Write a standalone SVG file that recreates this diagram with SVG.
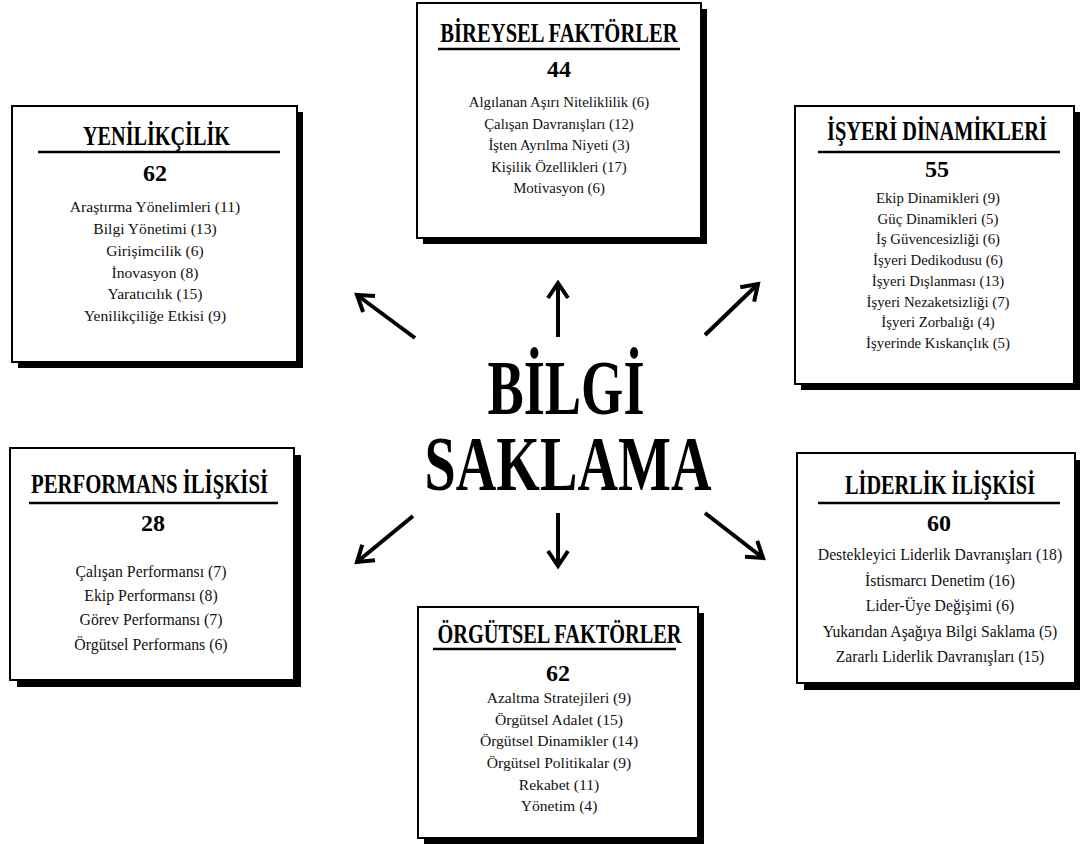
<svg xmlns="http://www.w3.org/2000/svg" width="1080" height="844" viewBox="0 0 1080 844">
<defs>
<style>
.shadow{fill:#000}
.box{fill:#fff;stroke:#000;stroke-width:2}
.ul{stroke:#000;stroke-width:2.5}
.t{font-family:"Liberation Serif",serif;font-weight:bold;fill:#000;text-anchor:middle}
.n{font-family:"Liberation Serif",serif;font-weight:bold;font-size:24px;fill:#000;text-anchor:middle}
.i{font-family:"Liberation Serif",serif;fill:#111;text-anchor:middle}
.arrow{stroke:#000;stroke-width:4;fill:none}
</style>
<marker id="head" viewBox="-20 -15 30 30" markerWidth="30" markerHeight="30" refX="0" refY="0" orient="auto" markerUnits="userSpaceOnUse">
<path d="M -15 -10 L 0 0 L -15 10" fill="none" stroke="#000" stroke-width="4"/>
</marker>
</defs>
<rect width="1080" height="844" fill="#fff"/>

<g id="center">
<text class="t" font-size="78" transform="translate(566,414) scale(0.697,1)" x="0" y="0">BİLGİ</text>
<text class="t" font-size="78" transform="translate(568,490) scale(0.72,1)" x="0" y="0">SAKLAMA</text>
</g>

<g id="connectors">
<line class="arrow" x1="415" y1="338" x2="357" y2="295" marker-end="url(#head)"/>
<line class="arrow" x1="558" y1="337" x2="558" y2="283" marker-end="url(#head)"/>
<line class="arrow" x1="705" y1="335" x2="758" y2="284" marker-end="url(#head)"/>
<line class="arrow" x1="413" y1="516" x2="357" y2="562" marker-end="url(#head)"/>
<line class="arrow" x1="558" y1="513" x2="558" y2="566" marker-end="url(#head)"/>
<line class="arrow" x1="705" y1="513" x2="763" y2="558" marker-end="url(#head)"/>
</g>

<g id="yenilikcilik">
<rect class="shadow" x="18" y="112" width="285" height="256"/>
<rect class="box" x="12" y="106" width="285" height="256"/>
<text class="t" font-size="27" transform="translate(156.5,145) scale(0.748,1)" x="0" y="0">YENİLİKÇİLİK</text>
<line class="ul" x1="38" y1="152" x2="280" y2="152"/>
<text class="n" x="155" y="181">62</text>
<g class="i" font-size="15.6">
<text x="155" y="212">Araştırma Yönelimleri (11)</text>
<text x="155" y="234">Bilgi Yönetimi (13)</text>
<text x="155" y="256">Girişimcilik (6)</text>
<text x="155" y="278">İnovasyon (8)</text>
<text x="155" y="299">Yaratıcılık (15)</text>
<text x="155" y="321">Yenilikçiliğe Etkisi (9)</text>
</g>
</g>

<g id="bireysel">
<rect class="shadow" x="423" y="9" width="284" height="235"/>
<rect class="box" x="417" y="3" width="284" height="235"/>
<text class="t" font-size="27" transform="translate(559,42) scale(0.764,1)" x="0" y="0">BİREYSEL FAKTÖRLER</text>
<line class="ul" x1="438" y1="49" x2="680" y2="49"/>
<text class="n" x="559" y="77">44</text>
<g class="i" font-size="14.8">
<text x="559" y="107">Algılanan Aşırı Niteliklilik (6)</text>
<text x="559" y="128.5">Çalışan Davranışları (12)</text>
<text x="559" y="150">İşten Ayrılma Niyeti (3)</text>
<text x="559" y="171.5">Kişilik Özellikleri (17)</text>
<text x="559" y="193">Motivasyon (6)</text>
</g>
</g>

<g id="isyeri">
<rect class="shadow" x="801" y="112" width="279" height="278"/>
<rect class="box" x="795" y="106" width="279" height="278"/>
<text class="t" font-size="27" transform="translate(937,140) scale(0.754,1)" x="0" y="0">İŞYERİ DİNAMİKLERİ</text>
<line class="ul" x1="818" y1="152" x2="1060" y2="152"/>
<text class="n" x="937" y="177">55</text>
<g class="i" font-size="14.8">
<text x="938" y="203">Ekip Dinamikleri (9)</text>
<text x="938" y="223.7">Güç Dinamikleri (5)</text>
<text x="938" y="244.4">İş Güvencesizliği (6)</text>
<text x="938" y="265.1">İşyeri Dedikodusu (6)</text>
<text x="938" y="285.8">İşyeri Dışlanması (13)</text>
<text x="938" y="306.5">İşyeri Nezaketsizliği (7)</text>
<text x="938" y="327.2">İşyeri Zorbalığı (4)</text>
<text x="938" y="348">İşyerinde Kıskançlık (5)</text>
</g>
</g>

<g id="performans">
<rect class="shadow" x="17" y="455" width="284" height="232"/>
<rect class="box" x="10" y="448" width="284" height="232"/>
<text class="t" font-size="27" transform="translate(149.5,493) scale(0.769,1)" x="0" y="0">PERFORMANS İLİŞKİSİ</text>
<line class="ul" x1="29" y1="503" x2="278" y2="503"/>
<text class="n" x="153" y="531">28</text>
<g class="i" font-size="15.8">
<text x="151" y="577">Çalışan Performansı (7)</text>
<text x="151" y="601">Ekip Performansı (8)</text>
<text x="151" y="625">Görev Performansı (7)</text>
<text x="151" y="650">Örgütsel Performans (6)</text>
</g>
</g>

<g id="liderlik">
<rect class="shadow" x="804" y="460" width="278" height="230"/>
<rect class="box" x="797" y="453" width="278" height="230"/>
<text class="t" font-size="27" transform="translate(940,494) scale(0.752,1)" x="0" y="0">LİDERLİK İLİŞKİSİ</text>
<line class="ul" x1="818" y1="503" x2="1060" y2="503"/>
<text class="n" x="939" y="531">60</text>
<g class="i" font-size="15.7">
<text x="940" y="560">Destekleyici Liderlik Davranışları (18)</text>
<text x="940" y="586">İstismarcı Denetim (16)</text>
<text x="940" y="611">Lider-Üye Değişimi (6)</text>
<text x="940" y="637">Yukarıdan Aşağıya Bilgi Saklama (5)</text>
<text x="940" y="662">Zararlı Liderlik Davranışları (15)</text>
</g>
</g>

<g id="orgutsel">
<rect class="shadow" x="424" y="613" width="280" height="231"/>
<rect class="box" x="418" y="607" width="280" height="231"/>
<text class="t" font-size="27" transform="translate(559.5,643) scale(0.753,1)" x="0" y="0">ÖRGÜTSEL FAKTÖRLER</text>
<line class="ul" x1="433" y1="649" x2="676" y2="649"/>
<text class="n" x="558" y="681">62</text>
<g class="i" font-size="15.6">
<text x="559" y="703">Azaltma Stratejileri (9)</text>
<text x="559" y="725">Örgütsel Adalet (15)</text>
<text x="559" y="746">Örgütsel Dinamikler (14)</text>
<text x="559" y="768">Örgütsel Politikalar (9)</text>
<text x="559" y="790">Rekabet (11)</text>
<text x="559" y="811">Yönetim (4)</text>
</g>
</g>
</svg>
